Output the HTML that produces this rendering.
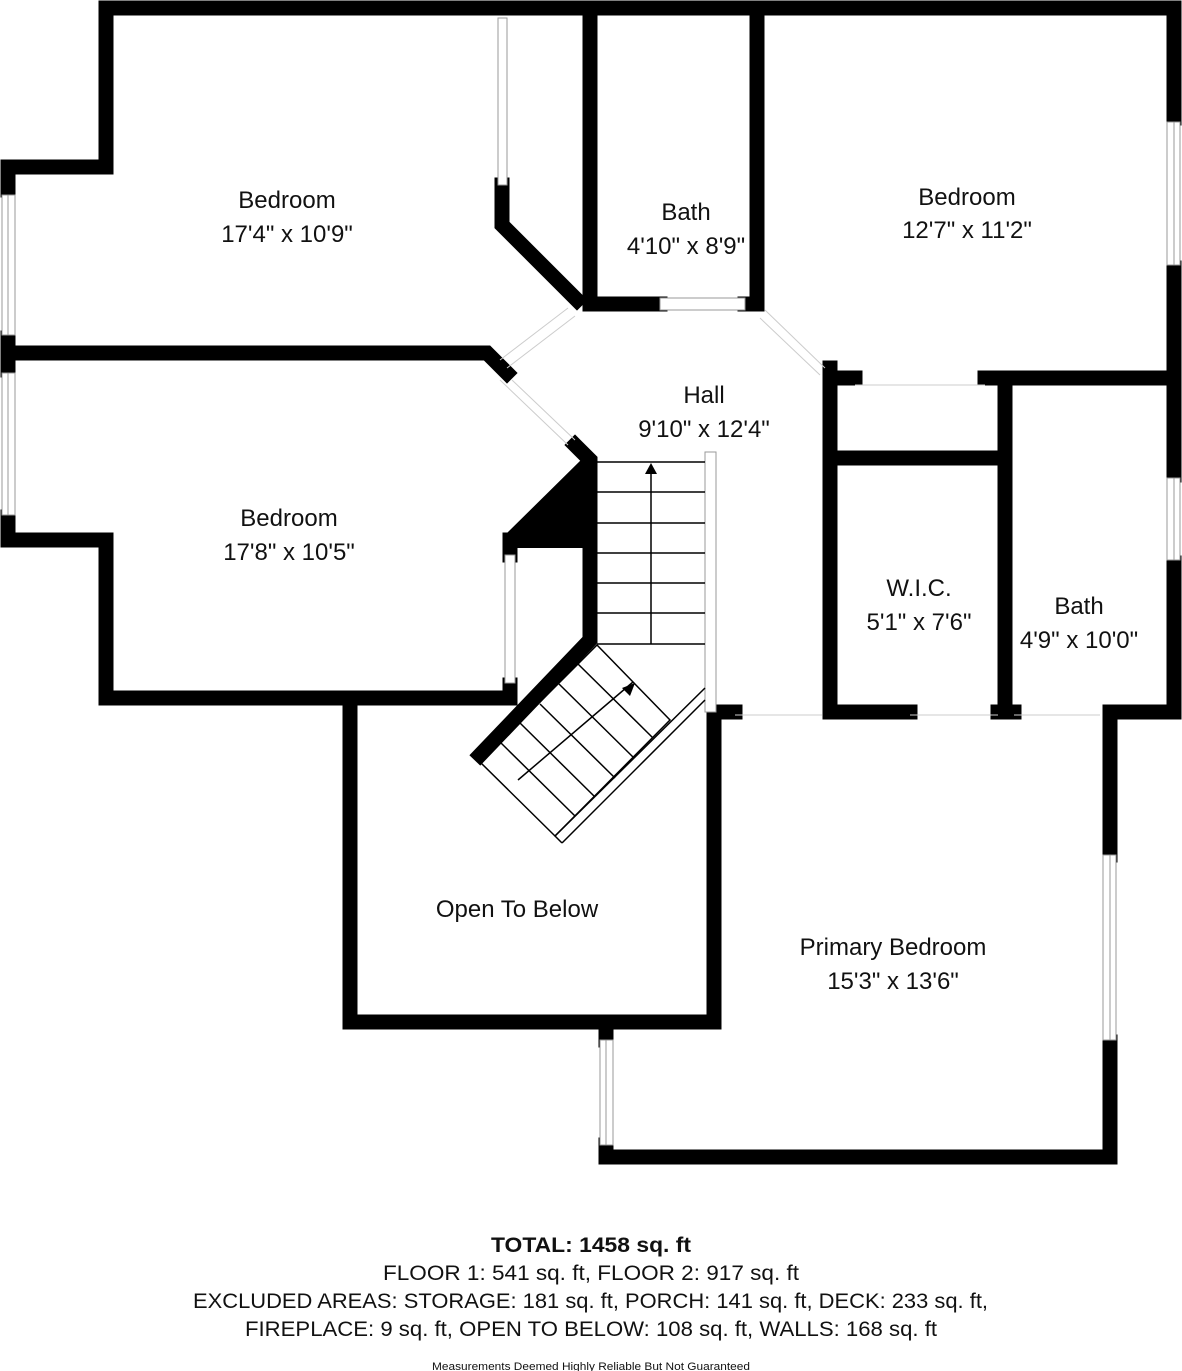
<!DOCTYPE html>
<html><head><meta charset="utf-8"><style>
html,body{margin:0;padding:0;background:#fff;}
svg{display:block;}
text{font-family:"Liberation Sans",sans-serif;fill:#111;}
</style></head><body>
<svg width="1182" height="1371" viewBox="0 0 1182 1371" xmlns="http://www.w3.org/2000/svg">
<g fill="none" stroke="#000" stroke-width="15" stroke-linejoin="miter" stroke-linecap="square">
<polyline points="1174,8 106,8 106,167 8,167 8,190"/>
<line x1="8" y1="338" x2="8" y2="370"/>
<line x1="8" y1="517" x2="8" y2="540"/>
<polyline points="8,540 106,540 106,698 505,698"/>
<line x1="510" y1="685" x2="510" y2="698"/>
<polyline points="1174,8 1174,118"/>
<line x1="1174" y1="268" x2="1174" y2="475"/>
<polyline points="1174,563 1174,712 1110,712 1110,855"/>
<polyline points="1110,1042 1110,1157 606,1157 606,1145"/>
<line x1="606" y1="1033" x2="606" y2="1040"/>
<polyline points="350,705 350,1022 714,1022 714,712 735,712"/>
<polyline points="502,185 502,225 577,300"/>
<polyline points="590,16 590,304 660,304"/>
<polyline points="745,304 757,304 757,16"/>
<polyline points="8,353 487,353 507,373"/>
<polyline points="830,368 830,712 910,712"/>
<line x1="830" y1="378" x2="855" y2="378"/>
<line x1="985" y1="378" x2="1174" y2="378"/>
<line x1="830" y1="458" x2="1005" y2="458"/>
<line x1="1005" y1="378" x2="1005" y2="712"/>
<line x1="998" y1="712" x2="1014" y2="712"/>
<polyline points="575,445 590,460 590,640 480,755"/>
<line x1="510" y1="540" x2="510" y2="555"/>
</g>
<polygon points="583,455 597,462 597,548 505,548 505,535 583,458" fill="#000"/>
<g fill="#fff" stroke="#999" stroke-width="1">
<rect x="2" y="195" width="13" height="140"/><line x1="8" y1="195" x2="8" y2="335"/>
<rect x="2" y="373" width="13" height="142"/><line x1="8" y1="373" x2="8" y2="515"/>
<rect x="1167" y="122" width="13" height="143"/><line x1="1174" y1="122" x2="1174" y2="265"/>
<rect x="1167" y="478" width="13" height="82"/><line x1="1174" y1="478" x2="1174" y2="560"/>
<rect x="1103" y="855" width="13" height="185"/><line x1="1110" y1="855" x2="1110" y2="1040"/>
<rect x="600" y="1040" width="13" height="105"/><line x1="606" y1="1040" x2="606" y2="1145"/>
<rect x="498" y="18" width="9" height="167"/>
<rect x="505" y="555" width="10" height="128"/>
<rect x="660" y="298" width="85" height="12"/>
<rect x="705" y="452" width="11" height="260"/>
</g>
<g stroke="#ccc" stroke-width="1">
<line x1="500" y1="360" x2="568" y2="308"/><line x1="507" y1="368" x2="575" y2="316"/>
<line x1="500" y1="380" x2="568" y2="445"/><line x1="512" y1="380" x2="575" y2="440"/>
<line x1="765" y1="310" x2="825" y2="368"/><line x1="760" y1="318" x2="820" y2="375"/>
<line x1="855" y1="385" x2="985" y2="385"/>
<line x1="735" y1="715" x2="822" y2="715"/><line x1="910" y1="715" x2="998" y2="715"/><line x1="1014" y1="715" x2="1100" y2="715"/>
</g>
<g stroke="#000" stroke-width="1.5" fill="none">
<line x1="597" y1="462" x2="705" y2="462"/>
<line x1="597" y1="492" x2="705" y2="492"/>
<line x1="597" y1="523" x2="705" y2="523"/>
<line x1="597" y1="553" x2="705" y2="553"/>
<line x1="597" y1="583" x2="705" y2="583"/>
<line x1="597" y1="613" x2="705" y2="613"/>
<line x1="597" y1="644" x2="705" y2="644"/>
<line x1="651" y1="644" x2="651" y2="472"/>
<polygon points="597,645 670,720 555,836 480,762"/>
<line x1="578" y1="664" x2="653" y2="738"/>
<line x1="559" y1="684" x2="634" y2="758"/>
<line x1="540" y1="704" x2="615" y2="778"/>
<line x1="520" y1="723" x2="595" y2="797"/>
<line x1="500" y1="742" x2="575" y2="816"/>
<line x1="518" y1="780" x2="633" y2="682"/>
<line x1="705" y1="688" x2="555" y2="836"/>
<line x1="705" y1="700" x2="562" y2="843"/>
<line x1="555" y1="836" x2="562" y2="843"/>
</g>
<polygon points="651,463 645,474 657,474" fill="#000"/>
<polygon points="635,683 622,688 630,696" fill="#000"/>
<g font-size="24" text-anchor="middle">
<text x="287" y="208">Bedroom</text><text x="287" y="242">17'4" x 10'9"</text>
<text x="686" y="220">Bath</text><text x="686" y="254">4'10" x 8'9"</text>
<text x="967" y="205">Bedroom</text><text x="967" y="238">12'7" x 11'2"</text>
<text x="704" y="403">Hall</text><text x="704" y="437">9'10" x 12'4"</text>
<text x="289" y="526">Bedroom</text><text x="289" y="560">17'8" x 10'5"</text>
<text x="919" y="596">W.I.C.</text><text x="919" y="630">5'1" x 7'6"</text>
<text x="1079" y="614">Bath</text><text x="1079" y="648">4'9" x 10'0"</text>
<text x="517" y="917">Open To Below</text>
<text x="893" y="955">Primary Bedroom</text><text x="893" y="989">15'3" x 13'6"</text>
</g>
<g text-anchor="start" font-size="21">
<text x="491" y="1252" font-weight="bold" textLength="200" lengthAdjust="spacingAndGlyphs">TOTAL: 1458 sq. ft</text>
<text x="383" y="1280" textLength="416" lengthAdjust="spacingAndGlyphs">FLOOR 1: 541 sq. ft, FLOOR 2: 917 sq. ft</text>
<text x="193" y="1308" textLength="795" lengthAdjust="spacingAndGlyphs">EXCLUDED AREAS: STORAGE: 181 sq. ft, PORCH: 141 sq. ft, DECK: 233 sq. ft,</text>
<text x="245" y="1336" textLength="692" lengthAdjust="spacingAndGlyphs">FIREPLACE: 9 sq. ft, OPEN TO BELOW: 108 sq. ft, WALLS: 168 sq. ft</text>
<text x="432" y="1370" font-size="11" textLength="318" lengthAdjust="spacingAndGlyphs">Measurements Deemed Highly Reliable But Not Guaranteed</text>
</g>
</svg>
</body></html>
